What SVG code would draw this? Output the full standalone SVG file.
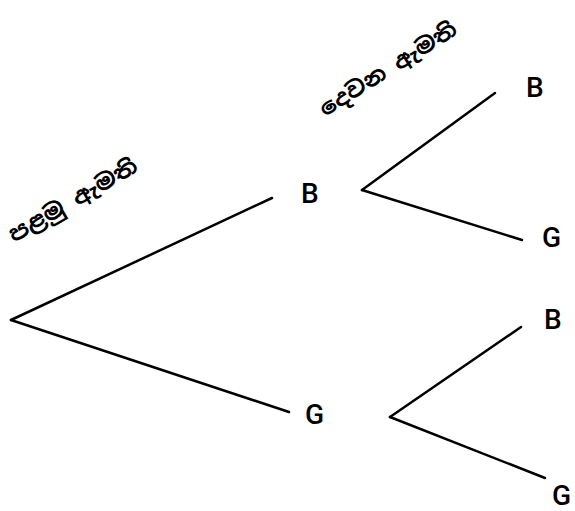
<svg xmlns="http://www.w3.org/2000/svg" width="575" height="511" viewBox="0 0 575 511">
<style>
.e{stroke:#000;stroke-width:2.5;fill:none;stroke-linecap:round}
.l{font-family:Roboto,"Liberation Sans",sans-serif;font-weight:500;font-size:28px;fill:#000}
.s{font-family:"Noto Sans Sinhala","Noto Sans",sans-serif;font-weight:700;font-size:22px;fill:#000}
</style>
<rect width="575" height="511" fill="#fff"/>
<g id="connectors">
<line class="e" x1="11" y1="320" x2="272" y2="198"/>
<line class="e" x1="11" y1="320" x2="289" y2="412"/>
<line class="e" x1="362" y1="190" x2="495" y2="93"/>
<line class="e" x1="362" y1="190" x2="522" y2="240"/>
<line class="e" x1="390" y1="417" x2="521" y2="327"/>
<line class="e" x1="390" y1="417" x2="545" y2="478"/>
</g>
<g id="label-first"><text class="s" x="14" y="243" transform="rotate(-30 14 243)" textLength="145" lengthAdjust="spacingAndGlyphs">පළමු ඇමති</text></g>
<g id="label-second"><text class="s" x="325" y="117" transform="rotate(-32 325 117)" textLength="158" lengthAdjust="spacingAndGlyphs">දෙවන ඇමති</text></g>
<g id="node-B1"><text class="l" x="301" y="203">B</text></g>
<g id="node-G1"><text class="l" x="305" y="424">G</text></g>
<g id="node-BB"><text class="l" x="526" y="97">B</text></g>
<g id="node-BG"><text class="l" x="542" y="247">G</text></g>
<g id="node-GB"><text class="l" x="544" y="329">B</text></g>
<g id="node-GG"><text class="l" x="552" y="505">G</text></g>
</svg>
